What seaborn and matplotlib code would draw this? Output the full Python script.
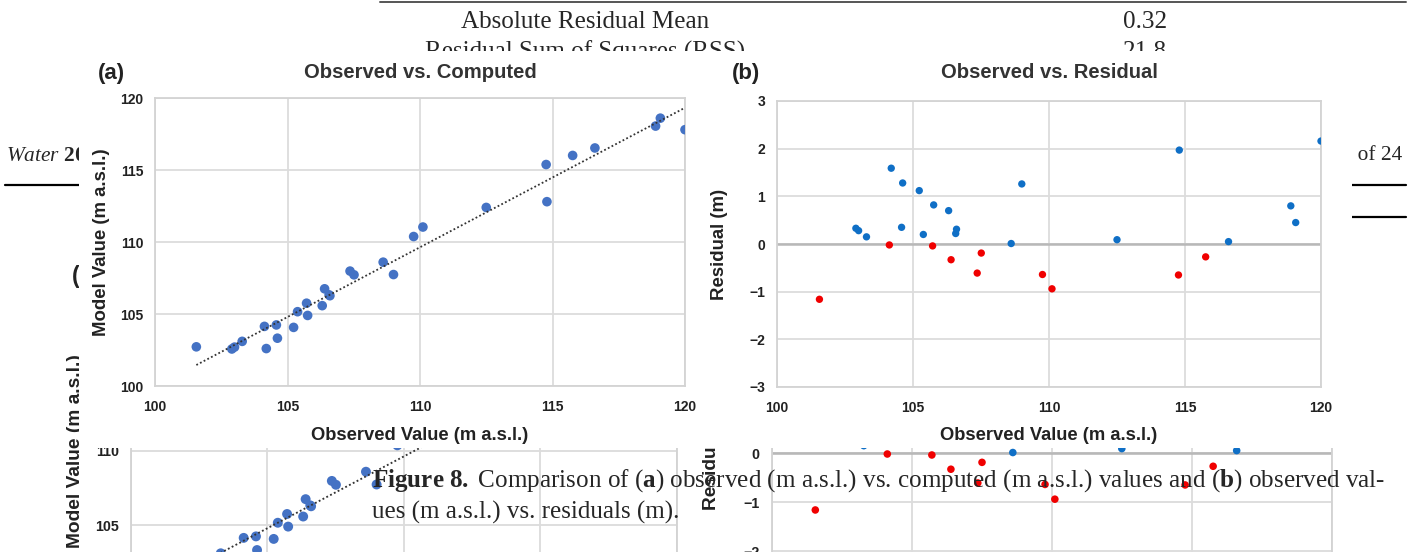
import numpy as np
import pandas as pd
import matplotlib.pyplot as plt
import seaborn as sns
from matplotlib.patches import Rectangle
from matplotlib.lines import Line2D

# ==============================================================================
#                      1. Data
# ==============================================================================
observed = [101.56, 102.90, 103.00, 103.29, 104.13, 104.20, 104.58, 104.62, 105.23, 105.38,
            105.72, 105.76, 106.31, 106.40, 106.57, 106.60, 107.36, 107.51, 108.61, 109.00,
            109.76, 110.11, 112.50, 114.76, 114.79, 115.76, 116.60, 118.89, 119.07, 120.00]
computed = [102.72, 102.57, 102.70, 103.10, 104.14, 102.60, 104.24, 103.32, 104.07, 105.16,
            105.75, 104.90, 105.58, 106.75, 106.33, 106.27, 107.98, 107.72, 108.60, 107.74,
            110.38, 111.04, 112.40, 115.38, 112.80, 116.01, 116.53, 118.05, 118.60, 117.80]
residual = [-1.16, 0.33, 0.28, 0.15, -0.02, 1.59, 0.35, 1.28, 1.12, 0.20,
            -0.04, 0.82, 0.70, -0.33, 0.22, 0.31, -0.61, -0.19, 0.01, 1.26,
            -0.64, -0.94, 0.09, -0.65, 1.97, -0.27, 0.05, 0.80, 0.45, 2.16]

x_ticks = [100, 105, 110, 115, 120]
y_ticks_a = [100, 105, 110, 115, 120]
y_ticks_b = [-3, -2, -1, 0, 1, 2, 3]

table_rows = [("Absolute Residual Mean", "0.32"),
              ("Residual Sum of Squares (RSS)", "21.8")]
caption_lines = [r"$\mathbf{Figure\ 8.}$ Comparison of ($\mathbf{a}$) observed (m a.s.l.) vs. computed "
                 r"(m a.s.l.) values and ($\mathbf{b}$) observed val-",
                 "ues (m a.s.l.) vs. residuals (m)."]

df = pd.DataFrame({"observed": observed, "computed": computed, "residual": residual})
df["sign"] = np.where(df["residual"] < 0, "neg", "pos")

# ==============================================================================
#                      2. Style
# ==============================================================================
sns.set_theme(style="whitegrid")
plt.rcParams['font.family'] = ['Liberation Sans', 'DejaVu Sans']
plt.rcParams['mathtext.fontset'] = 'custom'
plt.rcParams['mathtext.rm'] = 'Liberation Serif'
plt.rcParams['mathtext.it'] = 'Liberation Serif:italic'
plt.rcParams['mathtext.bf'] = 'Liberation Serif:bold'

W, H = 1421, 552
BLUE_A = '#4472c4'
BLUE_B = '#0f6fc6'
RED_B = '#f00000'
TXT = '#222222'
SERIF = ['Liberation Serif', 'DejaVu Serif']

fig = plt.figure(figsize=(W / 100, H / 100), dpi=100)


def fx(x):
    return x / W


def fy(y):
    return 1 - y / H


def style_axes(ax, s, ylim, yticks, xlabel, ylabel, title, box, ylab_x):
    x0, y0, x1, y1 = box
    w, h = x1 - x0, y1 - y0
    ax.set_xlim(100, 120)
    ax.set_ylim(*ylim)
    ax.set_xticks(x_ticks)
    ax.set_yticks(yticks)
    ax.grid(True, color='#dcdcdc', lw=1.3 * s)
    ax.set_axisbelow(True)
    for sp in ax.spines.values():
        sp.set_color('#d3d3d3')
        sp.set_linewidth(1.3 * s)
    ax.tick_params(axis='x', length=0, labelsize=10 * s, pad=10 * s, colors=TXT)
    ax.tick_params(axis='y', length=0, labelsize=10 * s, pad=8.5 * s, colors=TXT)
    plt.setp(ax.get_xticklabels() + ax.get_yticklabels(), fontweight='bold')
    ax.set_xlabel(xlabel, fontsize=13.2 * s, fontweight='bold', color=TXT)
    ax.xaxis.set_label_coords(0.5, -(436 - y1) / h)
    ax.xaxis.label.set_va('center')
    ax.set_ylabel(ylabel, fontsize=13.4 * s, fontweight='bold', color=TXT)
    ax.yaxis.set_label_coords(-(x0 - ylab_x) / w, 0.5)
    ax.yaxis.label.set_va('center')
    ax.set_title(title, fontsize=14.6 * s, fontweight='bold', color='#333333',
                 y=1 + (y0 - 73) / h, va='center', pad=0)


def draw_charts(s=1.0, dx=0.0, dy=0.0, z=10):
    def add_ax(box):
        x0, y0, x1, y1 = [v * s + (dx if i % 2 == 0 else dy) for i, v in enumerate(box)]
        ax = fig.add_axes([fx(x0), fy(y1), (x1 - x0) / W, (y1 - y0) / H])
        ax.set_zorder(z)
        return ax

    # (a) observed vs computed
    box_a = (155, 98, 685, 386)
    ax_a = add_ax(box_a)
    sns.scatterplot(data=df, x='observed', y='computed', ax=ax_a, color=BLUE_A,
                    s=48 * s * s, edgecolor='none', zorder=3)
    sns.regplot(data=df, x='observed', y='computed', ax=ax_a, scatter=False, ci=None,
                truncate=True, line_kws=dict(color='#333333', lw=1.3 * s,
                                             ls=(0, (1, 1.3)), zorder=4))
    style_axes(ax_a, s, (100, 120), y_ticks_a, 'Observed Value (m a.s.l.)',
               'Model Value (m a.s.l.)', 'Observed vs. Computed', box_a, 101)

    # (b) observed vs residual
    box_b = (777, 101, 1321, 387)
    ax_b = add_ax(box_b)
    ax_b.axhline(0, color='#b8b8b8', lw=1.8 * s, zorder=1)
    sns.scatterplot(data=df, x='observed', y='residual', hue='sign', ax=ax_b,
                    palette={'neg': RED_B, 'pos': BLUE_B}, s=28 * s * s,
                    edgecolor='none', legend=False, zorder=3)
    style_axes(ax_b, s, (-3, 3), y_ticks_b, 'Observed Value (m a.s.l.)',
               'Residual (m)', 'Observed vs. Residual', box_b, 719)

    for lab, (x, y) in (('(a)', (111, 73)), ('(b)', (746, 73))):
        fig.text(fx(x * s + dx), fy(y * s + dy), lab, fontsize=16 * s, fontweight='bold',
                 color=TXT, ha='center', va='center', zorder=z + 1)


# ==============================================================================
#                      3. Page layers
# ==============================================================================
# caption size chosen so that its first line runs from x=372 to x=1388
probe = fig.text(0, 0, caption_lines[0], family=SERIF, fontsize=16)
w_probe = probe.get_window_extent(fig.canvas.get_renderer()).width
probe.remove()
page_fs = 16 * 1016 / w_probe
head_fs = page_fs * 0.85

# page text underneath
fig.add_artist(Line2D([fx(380), fx(1406)], [fy(2), fy(2)], color='#555555', lw=1.4, zorder=0.5))
for (name, val), y in zip(table_rows, (22, 52)):
    fig.text(fx(585), fy(y), name, family=SERIF, fontsize=page_fs, ha='center', va='center', zorder=0.5)
    fig.text(fx(1145), fy(y), val, family=SERIF, fontsize=page_fs, ha='center', va='center', zorder=0.5)
fig.text(fx(6), fy(156), r"$\mathit{Water}$ $\mathbf{2024}$, 16, 1123", family=SERIF, fontsize=head_fs,
         ha='left', va='center', zorder=0.5)
fig.text(fx(1402), fy(156), "17 of 24", family=SERIF, fontsize=head_fs, ha='right', va='center', zorder=0.5)
fig.add_artist(Line2D([fx(5), fx(1406)], [fy(185), fy(185)], color='black', lw=1.6, zorder=0.5))
fig.add_artist(Line2D([fx(395), fx(1406)], [fy(217), fy(217)], color='black', lw=1.6, zorder=0.5))

# second, shifted copy of the figure
draw_charts(s=1.03, dx=-28.7, dy=201.7, z=2)

# white sheet of the main figure
fig.add_artist(Rectangle((fx(79), fy(448)), (1352 - 79) / W, (448 - 51) / H,
                         transform=fig.transFigure, fc='white', ec='none', zorder=5))

# main figure
draw_charts(s=1.0, z=10)

# caption on top
for line, y in zip(caption_lines, (481, 512)):
    fig.text(fx(372), fy(y), line, family=SERIF, fontsize=page_fs, ha='left', va='center', zorder=30)

fig.savefig('out.png', dpi=100)
plt.close(fig)
